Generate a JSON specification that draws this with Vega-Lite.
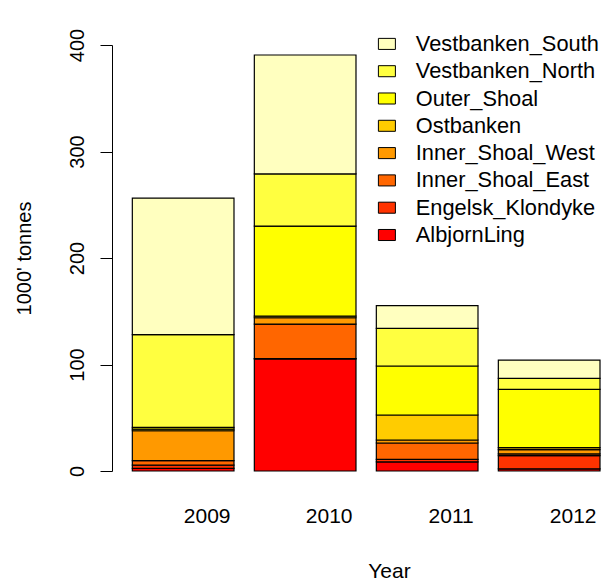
{
  "$schema": "https://vega.github.io/schema/vega-lite/v6.json",
  "width": 488,
  "height": 426,
  "autosize": "none",
  "padding": {"left": 112, "top": 45, "right": 3, "bottom": 110},
  "background": "white",
  "config": {
    "view": {"stroke": null},
    "font": "Liberation Sans"
  },
  "data": {
    "values": [
      {"year": "2009", "area": "AlbjornLing", "tonnes": 2.5},
      {"year": "2009", "area": "Engelsk_Klondyke", "tonnes": 3.0},
      {"year": "2009", "area": "Inner_Shoal_East", "tonnes": 4.2},
      {"year": "2009", "area": "Inner_Shoal_West", "tonnes": 28.1},
      {"year": "2009", "area": "Ostbanken", "tonnes": 1.5},
      {"year": "2009", "area": "Outer_Shoal", "tonnes": 1.7},
      {"year": "2009", "area": "Vestbanken_North", "tonnes": 87.0},
      {"year": "2009", "area": "Vestbanken_South", "tonnes": 128.3},
      {"year": "2010", "area": "AlbjornLing", "tonnes": 105.2},
      {"year": "2010", "area": "Engelsk_Klondyke", "tonnes": 0.3},
      {"year": "2010", "area": "Inner_Shoal_East", "tonnes": 32.5},
      {"year": "2010", "area": "Inner_Shoal_West", "tonnes": 5.9},
      {"year": "2010", "area": "Ostbanken", "tonnes": 1.5},
      {"year": "2010", "area": "Outer_Shoal", "tonnes": 84.6},
      {"year": "2010", "area": "Vestbanken_North", "tonnes": 48.9},
      {"year": "2010", "area": "Vestbanken_South", "tonnes": 111.7},
      {"year": "2011", "area": "AlbjornLing", "tonnes": 8.5},
      {"year": "2011", "area": "Engelsk_Klondyke", "tonnes": 2.5},
      {"year": "2011", "area": "Inner_Shoal_East", "tonnes": 15.3},
      {"year": "2011", "area": "Inner_Shoal_West", "tonnes": 2.8},
      {"year": "2011", "area": "Ostbanken", "tonnes": 23.5},
      {"year": "2011", "area": "Outer_Shoal", "tonnes": 46.0},
      {"year": "2011", "area": "Vestbanken_North", "tonnes": 35.4},
      {"year": "2011", "area": "Vestbanken_South", "tonnes": 21.2},
      {"year": "2012", "area": "AlbjornLing", "tonnes": 2.0},
      {"year": "2012", "area": "Engelsk_Klondyke", "tonnes": 12.5},
      {"year": "2012", "area": "Inner_Shoal_East", "tonnes": 1.5},
      {"year": "2012", "area": "Inner_Shoal_West", "tonnes": 4.0},
      {"year": "2012", "area": "Ostbanken", "tonnes": 2.0},
      {"year": "2012", "area": "Outer_Shoal", "tonnes": 54.7},
      {"year": "2012", "area": "Vestbanken_North", "tonnes": 10.3},
      {"year": "2012", "area": "Vestbanken_South", "tonnes": 17.2}
    ]
  },
  "mark": {"type": "bar", "stroke": "black", "strokeWidth": 1.2},
  "encoding": {
    "x": {
      "field": "year",
      "type": "ordinal",
      "scale": {"paddingInner": 0.1667, "paddingOuter": 0.0833, "align": 1},
      "axis": {
        "title": "Year",
        "domain": false,
        "ticks": false,
        "tickSize": 0,
        "labelAngle": 0,
        "labelFontSize": 21,
        "labelColor": "black",
        "labelBaseline": "alphabetic",
        "labelPadding": 51,
        "labelOffset": 24,
        "titleFontSize": 21,
        "titleFontWeight": "normal",
        "titleColor": "black",
        "titleX": 277,
        "titleY": 106,
        "titleAlign": "center",
        "titleBaseline": "alphabetic"
      }
    },
    "y": {
      "field": "tonnes",
      "type": "quantitative",
      "stack": "zero",
      "scale": {"domain": [0, 400], "nice": false},
      "axis": {
        "title": "1000' tonnes",
        "values": [0, 100, 200, 300, 400],
        "grid": false,
        "domainColor": "black",
        "tickColor": "black",
        "tickSize": 12,
        "labelAngle": -90,
        "labelAlign": "center",
        "labelBaseline": "alphabetic",
        "labelPadding": 17,
        "labelFontSize": 20,
        "labelColor": "black",
        "titleFontSize": 20,
        "titleFontWeight": "normal",
        "titleColor": "black",
        "titleAngle": -90,
        "titleX": -82,
        "titleY": 213,
        "titleAlign": "center",
        "titleBaseline": "alphabetic"
      }
    },
    "color": {
      "field": "area",
      "type": "nominal",
      "scale": {
        "domain": ["Vestbanken_South", "Vestbanken_North", "Outer_Shoal", "Ostbanken", "Inner_Shoal_West", "Inner_Shoal_East", "Engelsk_Klondyke", "AlbjornLing"],
        "range": ["#FFFFBF", "#FFFF40", "#FFFF00", "#FFCC00", "#FF9900", "#FF6600", "#FF3300", "#FF0000"]
      },
      "legend": {
        "orient": "none",
        "legendX": 264,
        "legendY": -12,
        "title": null,
        "padding": 0,
        "symbolType": "M-1,-0.65H1V0.65H-1Z",
        "symbolSize": 289,
        "symbolStrokeColor": "black",
        "symbolStrokeWidth": 1,
        "symbolOpacity": 1,
        "labelFontSize": 21.8,
        "labelColor": "black",
        "labelOffset": 18,
        "labelLimit": 400,
        "labelBaseline": "middle",
        "rowPadding": 4.3
      }
    },
    "order": {"field": "area", "sort": "ascending"}
  }
}
